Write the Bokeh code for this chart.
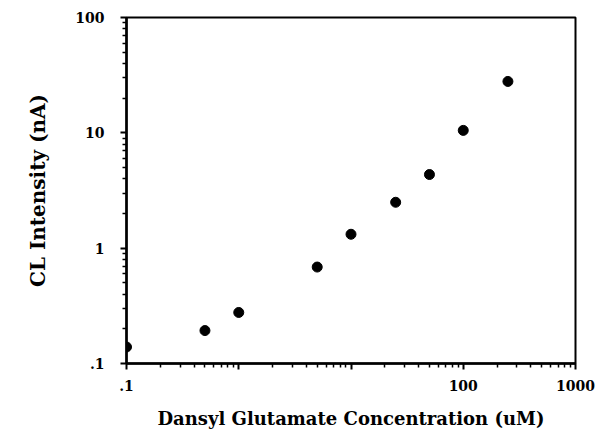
from bokeh.plotting import figure
from bokeh.models import FixedTicker, Range1d
from bokeh.embed import file_html
from bokeh.resources import INLINE

# data
concentration_uM = [0.1, 0.5, 1, 5, 10, 25, 50, 100, 250]
cl_intensity_nA = [0.139, 0.193, 0.277, 0.686, 1.32, 2.50, 4.35, 10.5, 27.9]

x_ticks = [0.1, 1, 10, 100, 1000]
x_tick_labels = {0.1: ".1", 1: "", 10: "", 100: "100", 1000: "1000"}
y_ticks = [0.1, 1, 10, 100]
y_tick_labels = {0.1: ".1", 1: "1", 10: "10", 100: "100"}

FONT = "DejaVu Serif"

p = figure(width=597, height=435, x_axis_type="log", y_axis_type="log",
           x_range=Range1d(0.1, 1000), y_range=Range1d(0.1, 100),
           output_backend="svg", toolbar_location=None,
           min_border_left=126, min_border_right=22, min_border_top=17, min_border_bottom=72)

p.scatter(concentration_uM, cl_intensity_nA, size=10, color="black")

p.grid.visible = False
p.outline_line_color = "black"
p.outline_line_width = 2
p.background_fill_color = "white"
p.border_fill_color = "white"

for ax in (p.xaxis[0], p.yaxis[0]):
    ax.axis_line_width = 2.5
    ax.axis_line_color = "black"
    ax.major_tick_line_width = 2
    ax.minor_tick_line_width = 1.5
    ax.major_tick_in = 0
    ax.major_tick_out = 6
    ax.minor_tick_in = 0
    ax.minor_tick_out = 4
    ax.major_label_text_font = FONT
    ax.major_label_text_font_style = "bold"
    ax.major_label_text_font_size = "14px"
    ax.major_label_text_color = "black"
    ax.axis_label_text_font = FONT
    ax.axis_label_text_font_style = "bold"
    ax.axis_label_text_color = "black"

p.xaxis.axis_label_text_font_size = "18px"
p.yaxis.axis_label_text_font_size = "20px"

p.xaxis.ticker = FixedTicker(ticks=x_ticks, minor_ticks=[v * m for v in [0.1, 1, 10, 100] for m in range(2, 10)])
p.yaxis.ticker = FixedTicker(ticks=y_ticks, minor_ticks=[v * m for v in [0.1, 1, 10] for m in range(2, 10)])
p.xaxis.major_label_overrides = {k: v for k, v in x_tick_labels.items()}
p.yaxis.major_label_overrides = {k: v for k, v in y_tick_labels.items()}
p.xaxis.major_label_standoff = 10
p.yaxis.major_label_standoff = 16
p.xaxis.axis_label = "Dansyl Glutamate Concentration (uM)"
p.yaxis.axis_label = "CL Intensity (nA)"
p.xaxis.axis_label_standoff = 14
p.yaxis.axis_label_standoff = 22

open("out.html", "w").write(file_html(p, INLINE))
